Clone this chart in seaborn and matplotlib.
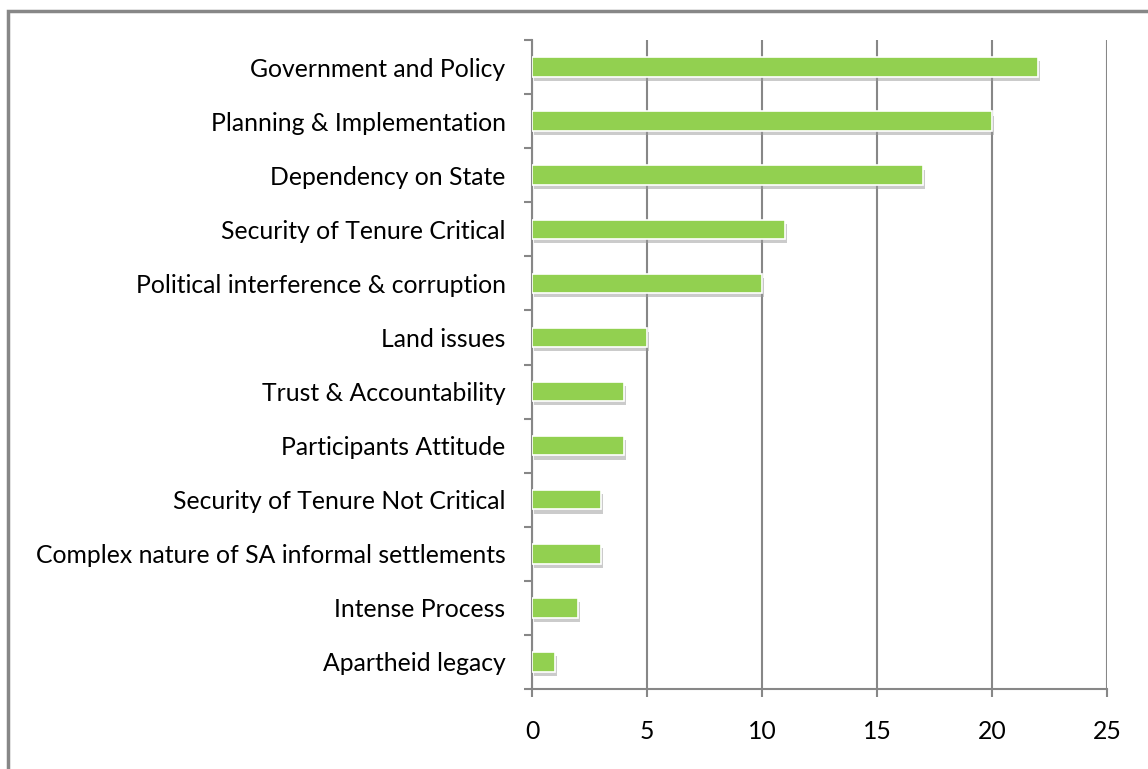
import matplotlib
matplotlib.use("Agg")
import matplotlib.pyplot as plt
import matplotlib.patheffects as pe
from matplotlib.patches import Rectangle
import seaborn as sns
import pandas as pd
import numpy as np

categories = [
    "Government and Policy",
    "Planning & Implementation",
    "Dependency on State",
    "Security of Tenure Critical",
    "Political interference & corruption",
    "Land issues",
    "Trust & Accountability",
    "Participants Attitude",
    "Security of Tenure Not Critical",
    "Complex nature of SA informal settlements",
    "Intense Process",
    "Apartheid legacy",
]
values = [22, 20, 17, 11, 10, 5, 4, 4, 3, 3, 2, 1]
x_ticks = [0, 5, 10, 15, 20, 25]

df = pd.DataFrame({"category": categories, "value": values})

sns.set_theme(style="white")
plt.rcParams["font.family"] = ["Lato", "DejaVu Sans"]

fig = plt.figure(figsize=(11.48, 7.69), dpi=100)
ax = fig.add_axes([532/1148, 1-689/769, (1107-532)/1148, (689-40)/769])

sns.barplot(data=df, x="value", y="category", orient="h", color="#92D050",
            width=0.36, saturation=1, edgecolor="white", linewidth=1.2, ax=ax, zorder=3)
for p in ax.patches:
    p.set_path_effects([pe.SimplePatchShadow(offset=(1.5, -3), shadow_rgbFace="#999999", alpha=0.5),
                        pe.Normal()])

ax.set_xlim(0, 25)
ax.set_ylim(len(categories) - 0.5, -0.5)
ax.set_xticks(x_ticks)
ax.set_xticklabels([str(t) for t in x_ticks])
ax.set_xlabel("")
ax.set_ylabel("")

grid_c = "#878787"
ax.xaxis.grid(True, color=grid_c, linewidth=1.5, zorder=0)
ax.yaxis.grid(False)
ax.set_axisbelow(True)

for s in ["top", "right"]:
    ax.spines[s].set_visible(False)
for s in ["left", "bottom"]:
    ax.spines[s].set_color(grid_c)
    ax.spines[s].set_linewidth(1.5)

ax.set_yticks(np.arange(-0.5, len(categories), 1), minor=True)
ax.tick_params(axis="y", which="major", length=0, pad=19, labelsize=17.8, labelcolor="black")
ax.tick_params(axis="y", which="minor", length=6, width=1.5, color=grid_c, left=True)
ax.tick_params(axis="x", which="major", length=6, width=1.5, color=grid_c, bottom=True,
               pad=16, labelsize=17.8, labelcolor="black")

fig.patches.append(Rectangle((8/1148, -0.1), 1.2, 1 - 10.5/769 + 0.1, transform=fig.transFigure,
                             fill=False, edgecolor="#878787", linewidth=2.5))

fig.savefig("out.png", dpi=100)
